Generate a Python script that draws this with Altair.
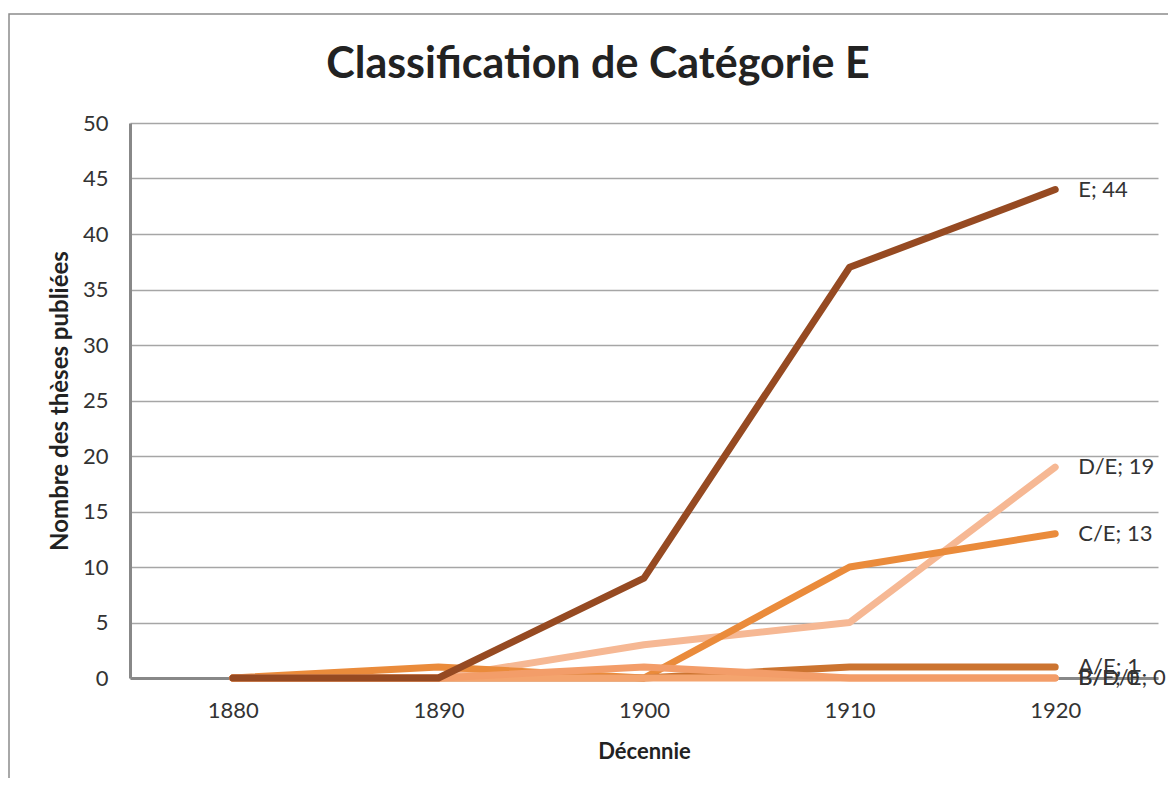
import altair as alt
import pandas as pd

decennies = ["1880", "1890", "1900", "1910", "1920"]
series = ["D/E", "C/E", "A/E", "B/D/E", "B/E", "E"]
valeurs = {
    "D/E":   [0, 0, 3, 5, 19],
    "C/E":   [0, 1, 0, 10, 13],
    "A/E":   [0, 0, 0, 1, 1],
    "B/D/E": [0, 0, 0, 0, 0],
    "B/E":   [0, 0, 1, 0, 0],
    "E":     [0, 0, 9, 37, 44],
}
couleurs = ["#F6B894", "#EA8B3B", "#CC7430", "#F4A46E", "#F39D69", "#964A22"]

rows = []
for s in series:
    for d, v in zip(decennies, valeurs[s]):
        rows.append({"serie": s, "decennie": d, "valeur": v})
df = pd.DataFrame(rows)

FONT = "Lato"

base = alt.Chart(df).encode(
    x=alt.X("decennie:O", sort=decennies,
            scale=alt.Scale(type="point", padding=0.5),
            axis=alt.Axis(title="Décennie", labelAngle=0, ticks=False,
                          labelFontSize=22, labelColor="#333333", labelPadding=22,
                          titleFontSize=22, titleFont=FONT, labelFont=FONT,
                          titleColor="#222222", titlePadding=20,
                          domainColor="#888888", domainWidth=3, grid=False)),
    y=alt.Y("valeur:Q", scale=alt.Scale(domain=[0, 50]),
            axis=alt.Axis(title="Nombre des thèses publiées", values=list(range(0, 51, 5)),
                          ticks=False, labelFontSize=22, labelColor="#333333",
                          labelPadding=22, titleFontSize=24, titleFont=FONT, labelFont=FONT,
                          titleColor="#222222", titlePadding=10,
                          domainColor="#888888", domainWidth=3,
                          gridColor="#A6A6A6", gridWidth=1.5)),
)

lines = base.mark_line(strokeWidth=7, strokeCap="round", strokeJoin="round").encode(
    color=alt.Color("serie:N", scale=alt.Scale(domain=series, range=couleurs), legend=None),
    detail="serie:N",
)

labels = base.transform_filter(alt.datum.decennie == "1920").transform_calculate(
    lab="datum.serie + '; ' + datum.valeur"
).mark_text(align="left", baseline="middle", dx=23, fontSize=22, font=FONT,
            color="#333333").encode(text="lab:N")

titre = alt.Chart(pd.DataFrame({"t": ["Classification de Catégorie E"]})).mark_text(
    fontSize=43, fontWeight="bold", font=FONT, color="#222222",
    align="center", baseline="middle"
).encode(text="t:N", x=alt.value(468), y=alt.value(-58))

cadre = alt.Chart(pd.DataFrame({"k": [0]})).mark_rect(
    fill=None, stroke="#8C8C8C", strokeWidth=1.5
).encode(x=alt.value(-121), x2=alt.value(1200), y=alt.value(-109), y2=alt.value(800))

chart = alt.layer(cadre, lines, labels, titre).properties(
    width=1028, height=555,
    padding={"left": 122, "top": 115, "right": 10, "bottom": 100},
    autosize=alt.AutoSizeParams(type="none"),
).configure_view(stroke=None)

chart.save("out.html", embed_options={"renderer": "svg", "actions": False})
